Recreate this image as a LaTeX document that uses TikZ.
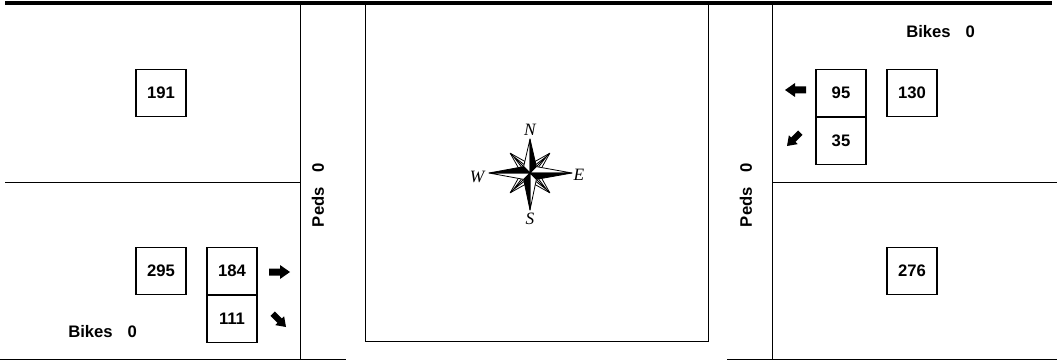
\documentclass[tikz,border=0pt]{standalone}
\usepackage{fontspec}
\setmainfont{Liberation Sans}
\newfontfamily\compassfont{Liberation Serif}
\usetikzlibrary{positioning}

\begin{document}
\begin{tikzpicture}[x=0.75pt, y=-0.75pt, font=\fontsize{12.5}{14}\selectfont\bfseries,
  road/.style={line width=0.75pt},
  edge/.style={line width=2.4pt},
  cnt/.style={draw, line width=0.8pt, minimum width=37.5pt, minimum height=35.25pt, inner sep=0pt, align=center},
  lab/.style={inner sep=0pt, anchor=west},
  peds/.style={inner sep=0pt, rotate=90},
  dir/.style={font=\compassfont\itshape\fontsize{13}{14}\selectfont, inner sep=0pt},
  turn/.pic={\fill (-10,-3.5) -- (1,-3.5) -- (1,-7) -- (11,0) -- (1,7) -- (1,3.5) -- (-10,3.5) -- cycle;}]
  \useasboundingbox (0,0) rectangle (1057,360);
  % street edges
  \coordinate (tl) at (5,3);
  \coordinate (tr) at (1052,3);
  \draw[edge] (tl) -- (tr);
  \draw[road] (300,3) -- (300,359);
  \draw[road] (772,3) -- (772,359);
  \draw[road] (365,3) |- (708,341) -- (708,3);
  \draw[road] (5,182) -- (300,182);
  \draw[road] (772,182) -- (1057,182);
  \draw[road] (0,359) -- (346,359);
  \draw[road] (727,359) -- (1057,359);
  % west approach
  \node[cnt] (wn) at (161,93) {191};
  \node[cnt] (wt) at (161,271) {295};
  \node[cnt] (wr) at (232,271) {184};
  \node[cnt, below=0pt of wr] (wd) {111};
  \pic at (279,272) {turn};
  \pic[rotate=-45, scale=0.9] at (279,320) {turn};
  \node[lab] (bikesw) at (68,332) {Bikes\hspace{0.9em}0};
  \node[peds] (pedsw) at (318,195) {Peds\hspace{0.9em}0};
  % east approach
  \node[cnt] (el) at (841,93) {95};
  \node[cnt, below=0pt of el] (ed) {35};
  \node[cnt] (en) at (912,93) {130};
  \node[cnt] (es) at (912,271) {276};
  \pic[rotate=180] at (796,90) {turn};
  \pic[rotate=-135, scale=0.9] at (794,139) {turn};
  \node[lab] (bikese) at (906,32) {Bikes\hspace{0.9em}0};
  \node[peds] (pedse) at (746,195) {Peds\hspace{0.9em}0};
  % compass rose
  \begin{scope}[shift={(530,173)}, x=0.75pt, y=0.75pt, line width=0.6pt, line join=round]
    \foreach \a in {45,135,225,315} {
      \draw[fill=white] (0,0) -- (\a-28:11) -- (\a:28) -- (\a+28:11) -- cycle;
      \draw (\a-16:8) -- (\a:23) -- (\a+16:8);
      \draw (0,0) -- (\a:28);
    }
    \foreach \a/\r in {90/34, 0/42, 270/37, 180/41} {
      \draw[fill=white] (0,0) -- (\a:\r) -- (\a+45:9) -- cycle;
      \draw[fill=black] (0,0) -- (\a:\r) -- (\a-45:9) -- cycle;
    }
  \end{scope}
  \node[dir] (cn) at (530,130) {N};
  \node[dir] (cs) at (530,219) {S};
  \node[dir] (cw) at (477,177) {W};
  \node[dir] (ce) at (579,175) {E};
\end{tikzpicture}
\end{document}
